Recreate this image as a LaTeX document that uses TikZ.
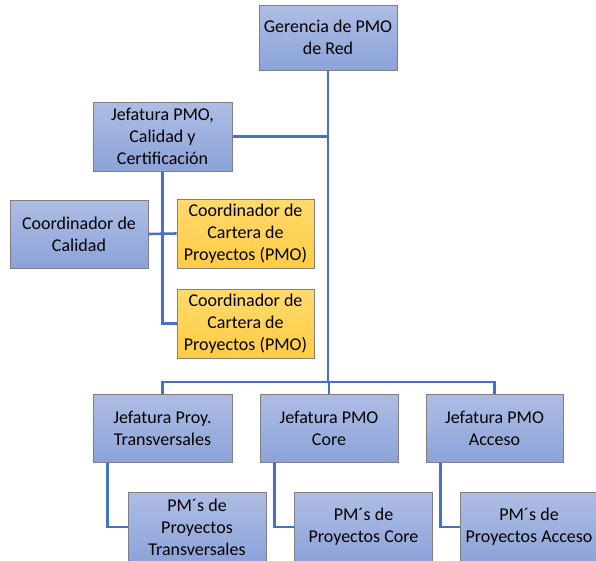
\documentclass[tikz,border=0pt]{standalone}
\usepackage{fontspec}
\setmainfont{Carlito}
\usetikzlibrary{calc,backgrounds}
\definecolor{boxtop}{HTML}{AEBDE4}
\definecolor{boxbot}{HTML}{8CA3D9}
\definecolor{ytop}{HTML}{FFDA6E}
\definecolor{ybot}{HTML}{FFCC44}
\definecolor{edgegray}{HTML}{7F7F7F}
\definecolor{linkblue}{HTML}{4472C4}
\tikzset{
  orgbox/.style={draw=edgegray, line width=0.8pt, top color=boxtop, bottom color=boxbot,
    minimum width=138pt, minimum height=68pt, inner sep=0pt, align=center,
    font=\fontsize{18}{22}\selectfont, text=black},
  ybox/.style={orgbox, top color=ytop, bottom color=ybot},
  link/.style={draw=linkblue, line width=2.6pt}
}
\begin{document}
\begin{tikzpicture}[x=1pt,y=-1pt]
\useasboundingbox (0,0) rectangle (596,560);
\clip (0,0) rectangle (596,560);
\node[orgbox, minimum height=65pt] (ger) at (328,37.5) {Gerencia de PMO\\de Red};
\node[orgbox, minimum width=139pt, minimum height=69pt] (jef) at (162.5,136.5) {Jefatura PMO,\\Calidad y\\Certificación};
\node[orgbox] (cal) at (79,234) {Coordinador de\\Calidad};
\node[ybox, minimum width=137pt, minimum height=69pt] (y1) at (245.5,233.5) {Coordinador de\\Cartera de\\Proyectos (PMO)};
\node[ybox, minimum width=137pt, minimum height=69pt] (y2) at (245.5,323.5) {Coordinador de\\Cartera de\\Proyectos (PMO)};
\node[orgbox, minimum width=139pt] (jt) at (162.5,428) {Jefatura Proy.\\Transversales};
\node[orgbox] (jc) at (329,428) {Jefatura PMO\\Core};
\node[orgbox, minimum width=137pt] (ja) at (494.5,428) {Jefatura PMO\\Acceso};
\node[orgbox, minimum height=70pt] (pt) at (197,527) {PM´s de\\Proyectos\\Transversales};
\node[orgbox, minimum height=70pt] (pc) at (363.5,527) {PM´s de\\Proyectos Core};
\node[orgbox, minimum height=70pt] (pa) at (529,527) {PM´s de\\Proyectos Acceso};
\coordinate (bus) at (328,382);
\begin{scope}[on background layer]
\draw[link] (ger.south) -- (bus);
\draw[link] (jef.east) -- (jef.east -| ger.south);
\draw[link] (jt.north) |- (bus) -| (ja.north);
\draw[link] (jc.north) -- (jc.north |- bus);
\draw[link] (jef.south) |- (y2.west);
\draw[link] (cal.east) -- (y1.west);
\draw[link] ($(jt.south west)+(15,0)$) |- (pt.west);
\draw[link] ($(jc.south west)+(15,0)$) |- (pc.west);
\draw[link] ($(ja.south west)+(15,0)$) |- (pa.west);
\end{scope}
\end{tikzpicture}
\end{document}
